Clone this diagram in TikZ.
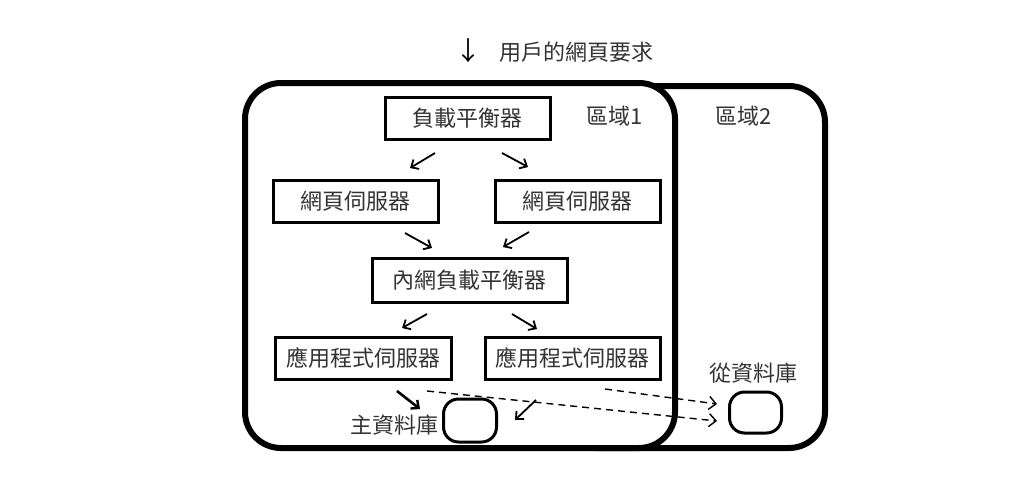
\documentclass[tikz,border=0pt]{standalone}
\usepackage{fontspec}
\setmainfont{Noto Sans CJK TC}
\usetikzlibrary{arrows.meta}
\begin{document}
\begin{tikzpicture}[x=1pt,y=-1pt,
  box/.style={draw=black,line width=3pt,minimum height=42pt,inner sep=0pt,font=\fontsize{22}{24}\selectfont,text=black!80},
  dbbox/.style={draw=black,line width=3pt,rounded corners=15pt,inner sep=0pt},
  region/.style={draw=black,line width=6pt,rounded corners=36pt},
  lbl/.style={font=\fontsize{22}{24}\selectfont,text=black!80,inner sep=0pt},
  arr/.style={line width=1.8pt,-{Straight Barb[length=6pt,width=11pt,line width=1.8pt]}},
  arrb/.style={line width=2.6pt,-{Straight Barb[length=6pt,width=11pt,line width=2.4pt]}},
  darr/.style={line width=1.4pt,dash pattern=on 7pt off 5pt,-{Straight Barb[length=7pt,width=13pt,line width=1.4pt]}}]
\useasboundingbox (0,0) rectangle (1024,477);
\fill[white] (0,0) rectangle (1024,477);
% regions
\draw[region] (560,86) rectangle (825,448);
\draw[region,fill=white] (245,83) rectangle (675,448);
% title
\node[lbl,anchor=west] (title) at (499,52) {用戶的網頁要求};
\node[lbl,font=\fontsize{26}{28}\selectfont,text=black] (tarrow) at (468,51) {↓};
% region labels
\node[lbl] (r1) at (615,116) {區域1};
\node[lbl] (r2) at (744,116) {區域2};
% boxes
\node[box,minimum width=165pt] (lb) at (467.5,118.5) {負載平衡器};
\node[box,minimum width=165pt] (ws1) at (355.5,201.5) {網頁伺服器};
\node[box,minimum width=165pt] (ws2) at (577.5,201.5) {網頁伺服器};
\node[box,minimum width=195pt,minimum height=44pt] (ilb) at (469.5,280) {內網負載平衡器};
\node[box,minimum width=176pt] (as1) at (363,358) {應用程式伺服器};
\node[box,minimum width=175pt] (as2) at (572.5,358) {應用程式伺服器};
\node[dbbox,minimum width=53pt,minimum height=43pt] (mdb) at (470,420.5) {};
\node[dbbox,minimum width=52pt,minimum height=41pt] (sdb) at (755.5,412.5) {};
\node[lbl] (mdbl) at (394,425) {主資料庫};
\node[lbl] (sdbl) at (753,373) {從資料庫};
% arrow anchor coordinates
\coordinate (a1s) at (435,153); \coordinate (a1e) at (410,168);
\coordinate (a2s) at (502,153); \coordinate (a2e) at (528,167);
\coordinate (a3s) at (405,233); \coordinate (a3e) at (432,248);
\coordinate (a4s) at (529,232); \coordinate (a4e) at (503,247);
\coordinate (a5s) at (427,314); \coordinate (a5e) at (402,328);
\coordinate (a6s) at (512,314); \coordinate (a6e) at (537,329);
\coordinate (a7s) at (397,391); \coordinate (a7e) at (420,409);
\coordinate (a8s) at (536,400); \coordinate (a8e) at (515,420);
\coordinate (d1s) at (605,389); \coordinate (d1e) at (717,404);
\coordinate (d2s) at (427,391); \coordinate (d2e) at (717,421);
\draw[arr] (a1s) -- (a1e);
\draw[arr] (a2s) -- (a2e);
\draw[arr] (a3s) -- (a3e);
\draw[arr] (a4s) -- (a4e);
\draw[arr] (a5s) -- (a5e);
\draw[arr] (a6s) -- (a6e);
\draw[arrb] (a7s) -- (a7e);
\draw[arr] (a8s) -- (a8e);
\draw[darr] (d1s) -- (d1e);
\draw[darr] (d2s) -- (d2e);
\end{tikzpicture}
\end{document}
